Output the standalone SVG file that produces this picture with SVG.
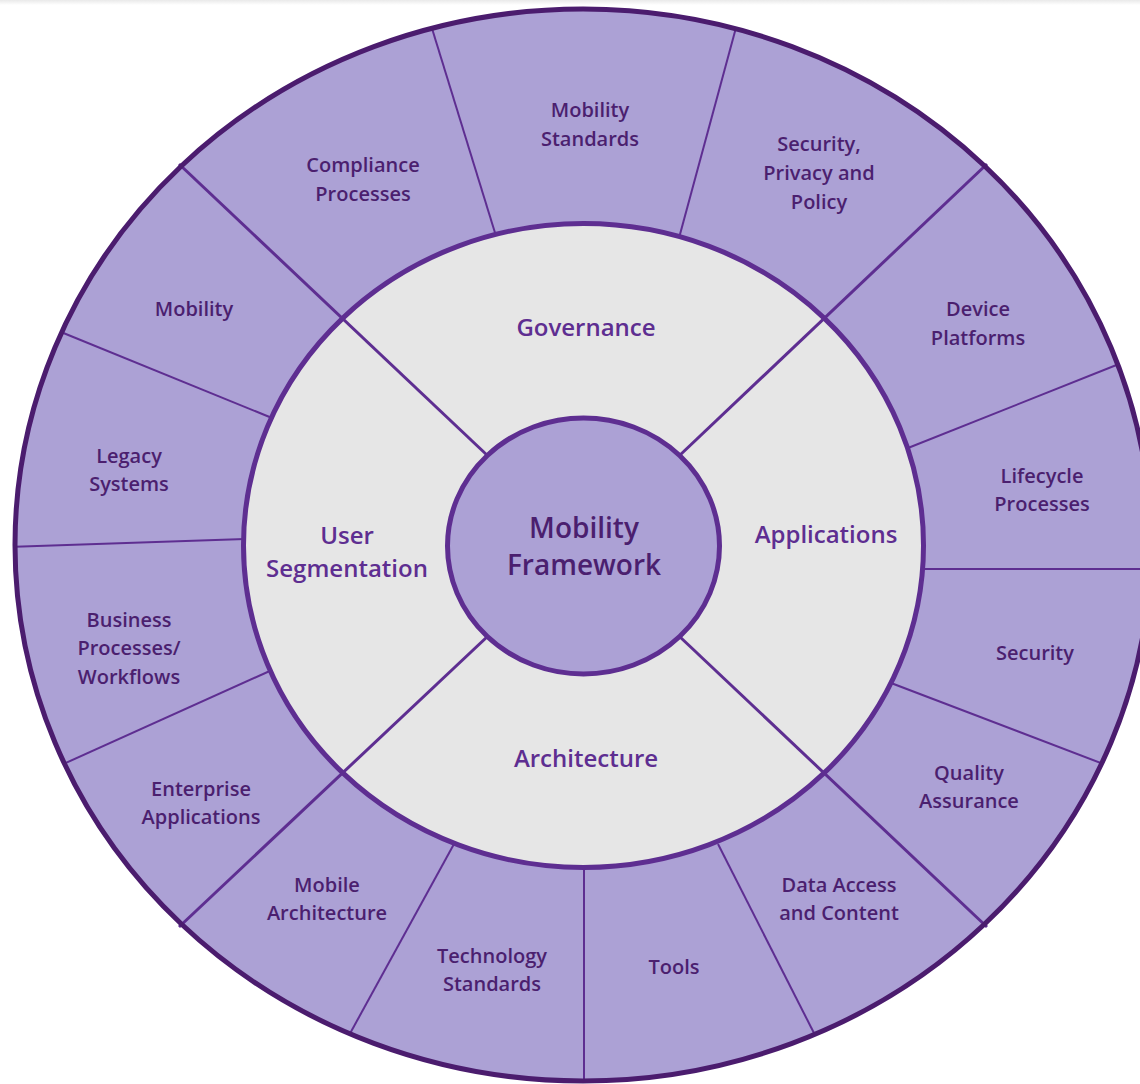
<svg xmlns="http://www.w3.org/2000/svg" width="1140" height="1084" viewBox="0 0 1140 1084">
  <defs>
    <linearGradient id="topShade" x1="0" y1="0" x2="0" y2="1">
      <stop offset="0" stop-color="#e9e9e9"/>
      <stop offset="1" stop-color="#ffffff"/>
    </linearGradient>
    <clipPath id="outerClip">
      <ellipse cx="583" cy="545" rx="568" ry="536"/>
    </clipPath>
  </defs>
  <style>
    .ring-fill { fill: #aca1d5; }
    .ring-edge { fill: none; stroke: #4b1c6e; stroke-width: 5; }
    .core { fill: #e6e6e6; stroke: #5e2e91; stroke-width: 5; }
    .hub { fill: #aca1d5; stroke: #5e2e91; stroke-width: 5; }
    .divider { stroke: #5e2e91; stroke-width: 2; fill: none; }
    .spoke { stroke: #5e2e91; stroke-width: 3; fill: none; }
    .label { font-family: "Open Sans", "Liberation Sans", sans-serif; font-weight: 600; font-size: 20px; fill: #4b1f6f; text-anchor: middle; }
    .pillar { font-family: "Open Sans", "Liberation Sans", sans-serif; font-weight: 600; font-size: 24px; fill: #5e2e91; text-anchor: middle; }
    .title { font-family: "Open Sans", "Liberation Sans", sans-serif; font-weight: 600; font-size: 28px; fill: #4b1f6f; text-anchor: middle; }
  </style>

  <rect x="0" y="0" width="1140" height="1084" fill="#ffffff"/>
  <rect x="0" y="0" width="1140" height="5" fill="url(#topShade)"/>

  <!-- outer ring background -->
  <ellipse class="ring-fill" cx="583" cy="545" rx="568" ry="536"/>

  <!-- radial dividers of the outer ring and the four spokes -->
  <g id="connectors" clip-path="url(#outerClip)">
    <line class="divider" x1="430" y1="22" x2="496" y2="236"/>
    <line class="divider" x1="737" y1="24" x2="679" y2="238"/>
    <line class="divider" x1="56" y1="330" x2="272" y2="418"/>
    <line class="divider" x1="8" y1="547" x2="245" y2="539"/>
    <line class="divider" x1="59" y1="766" x2="272" y2="670"/>
    <line class="divider" x1="347" y1="1039" x2="454" y2="844"/>
    <line class="divider" x1="584" y1="1088" x2="584" y2="868"/>
    <line class="divider" x1="817" y1="1039" x2="718" y2="844"/>
    <line class="divider" x1="908" y1="448" x2="1124" y2="362"/>
    <line class="divider" x1="922" y1="569" x2="1150" y2="569"/>
    <line class="divider" x1="891" y1="683" x2="1106" y2="765"/>
  </g>

  <!-- middle ring -->
  <g id="core-ring">
    <ellipse class="core" cx="583.5" cy="545.5" rx="340" ry="322"/>
  </g>

  <g id="spokes">
    <line class="spoke" x1="179" y1="164" x2="488" y2="456"/>
    <line class="spoke" x1="987" y1="164" x2="679" y2="456"/>
    <line class="spoke" x1="179" y1="927" x2="488" y2="636"/>
    <line class="spoke" x1="987" y1="927" x2="679" y2="636"/>
  </g>

  <ellipse class="ring-edge" cx="583" cy="545" rx="568" ry="536"/>

  <!-- centre -->
  <g id="hub">
    <ellipse class="hub" cx="583.5" cy="546" rx="136" ry="128"/>
    <text class="title" x="584" y="538">Mobility</text>
    <text class="title" x="584" y="575">Framework</text>
  </g>

  <!-- four pillars -->
  <g id="governance"><text class="pillar" x="586" y="336">Governance</text></g>
  <g id="applications"><text class="pillar" x="826" y="543">Applications</text></g>
  <g id="architecture"><text class="pillar" x="586" y="767">Architecture</text></g>
  <g id="user-segmentation">
    <text class="pillar" x="347" y="544">User</text>
    <text class="pillar" x="347" y="577">Segmentation</text>
  </g>

  <!-- outer ring segments -->
  <g id="mobility-standards">
    <text class="label" x="590" y="117">Mobility</text>
    <text class="label" x="590" y="146">Standards</text>
  </g>
  <g id="security-privacy-policy">
    <text class="label" x="819" y="151">Security,</text>
    <text class="label" x="819" y="180">Privacy and</text>
    <text class="label" x="819" y="209">Policy</text>
  </g>
  <g id="device-platforms">
    <text class="label" x="978" y="316">Device</text>
    <text class="label" x="978" y="345">Platforms</text>
  </g>
  <g id="lifecycle-processes">
    <text class="label" x="1042" y="483">Lifecycle</text>
    <text class="label" x="1042" y="511">Processes</text>
  </g>
  <g id="security">
    <text class="label" x="1035" y="660">Security</text>
  </g>
  <g id="quality-assurance">
    <text class="label" x="969" y="780">Quality</text>
    <text class="label" x="969" y="808">Assurance</text>
  </g>
  <g id="data-access">
    <text class="label" x="839" y="892">Data Access</text>
    <text class="label" x="839" y="920">and Content</text>
  </g>
  <g id="tools">
    <text class="label" x="674" y="974">Tools</text>
  </g>
  <g id="technology-standards">
    <text class="label" x="492" y="963">Technology</text>
    <text class="label" x="492" y="991">Standards</text>
  </g>
  <g id="mobile-architecture">
    <text class="label" x="327" y="892">Mobile</text>
    <text class="label" x="327" y="920">Architecture</text>
  </g>
  <g id="enterprise-applications">
    <text class="label" x="201" y="796">Enterprise</text>
    <text class="label" x="201" y="824">Applications</text>
  </g>
  <g id="business-processes">
    <text class="label" x="129" y="627">Business</text>
    <text class="label" x="129" y="655">Processes/</text>
    <text class="label" x="129" y="684">Workflows</text>
  </g>
  <g id="legacy-systems">
    <text class="label" x="129" y="463">Legacy</text>
    <text class="label" x="129" y="491">Systems</text>
  </g>
  <g id="mobility">
    <text class="label" x="194" y="316">Mobility</text>
  </g>
  <g id="compliance-processes">
    <text class="label" x="363" y="172">Compliance</text>
    <text class="label" x="363" y="201">Processes</text>
  </g>
</svg>
